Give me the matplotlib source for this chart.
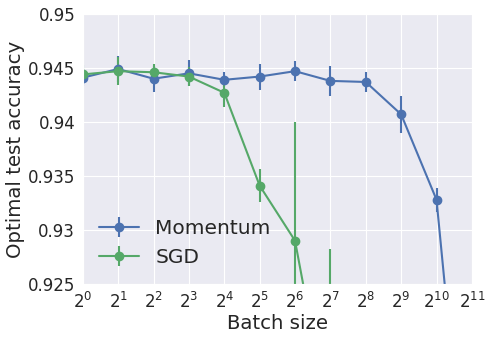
import numpy as np
import seaborn as sns
from matplotlib import pyplot as plt

sns.set_style('darkgrid')
plt.rcParams['font.family'] = ['DejaVu Sans']

# batch sizes as powers of two
mom_batch = [1, 2, 4, 8, 16, 32, 64, 128, 256, 512, 1024, 2048]
mom_acc = [0.9441, 0.9449, 0.9440, 0.9445, 0.9439, 0.9442, 0.9447, 0.9438, 0.9437, 0.9407, 0.9328, 0.8990]
mom_err = [0.0008, 0.0012, 0.0012, 0.0012, 0.0007, 0.0012, 0.0009, 0.0014, 0.0009, 0.0017, 0.0011, 0.0020]

sgd_batch = [1, 2, 4, 8, 16, 32, 64, 128]
sgd_acc = [0.9444, 0.9447, 0.9446, 0.9442, 0.9427, 0.9341, 0.9290, 0.9115]
sgd_err = [0.0009, 0.0013, 0.0008, 0.0009, 0.0013, 0.0015, 0.0110, 0.0167]

fig = plt.figure(figsize=(4.9, 3.4), dpi=100)
ax = fig.add_axes([0.169, 0.165, 0.794, 0.794])

ax.errorbar(mom_batch, mom_acc, yerr=mom_err, color='#4C72B0', marker='o',
	markersize=6, linewidth=1.5, elinewidth=1.5, label='Momentum')
ax.errorbar(sgd_batch, sgd_acc, yerr=sgd_err, color='#55A868', marker='o',
	markersize=6, linewidth=1.5, elinewidth=1.5, label='SGD')

ax.set_xscale('log', base=2)
ax.set_xlim(1, 2048)
ax.set_ylim(0.925, 0.95)
ax.set_xticks([2 ** i for i in range(12)])
ax.set_xticklabels([r'$2^{%d}$' % i for i in range(12)])
ax.minorticks_off()
ax.set_yticks([0.925, 0.93, 0.935, 0.94, 0.945, 0.95])
ax.set_yticklabels(['0.925', '0.93', '0.935', '0.94', '0.945', '0.95'])
ax.tick_params(labelsize=12, pad=2)

ax.set_xlabel('Batch size', fontsize=14.2, labelpad=2)
ax.set_ylabel('Optimal test accuracy', fontsize=14.2, labelpad=2)
ax.legend(loc='lower left', fontsize=14.5, frameon=False, bbox_to_anchor=(-0.005, -0.005))

fig.savefig('out.png', dpi=100)
